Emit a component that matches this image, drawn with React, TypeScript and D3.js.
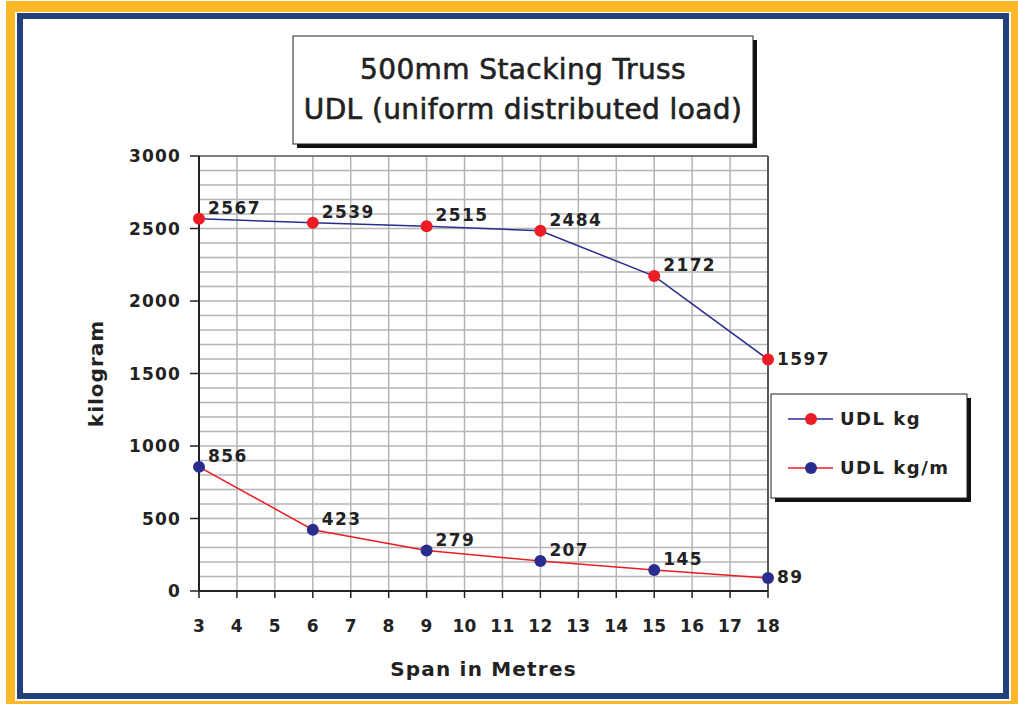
import * as d3 from "d3";
import React from "react";

const spans = [3, 6, 9, 12, 15, 18];
const udlKg = [2567, 2539, 2515, 2484, 2172, 1597];
const udlKgPerM = [856, 423, 279, 207, 145, 89];
const xTicks = d3.range(3, 19);
const yTicks = [0, 500, 1000, 1500, 2000, 2500, 3000];
const yGrid = d3.range(0, 3001, 100);

const W = 1018;
const H = 704;
const NAVY = "#2b2d8e";
const RED = "#ec1c24";
const FONT = "'DejaVu Sans', sans-serif";

const margin = { left: 199, right: 250, top: 156, bottom: 113 };

const App = () => {
	const x = d3.scaleLinear().domain([3, 18]).range([margin.left, W - margin.right]);
	const y = d3.scaleLinear().domain([0, 3000]).range([H - margin.bottom, margin.top]);

	const line = d3
		.line<number>()
		.x((_, i) => x(spans[i]))
		.y((d) => y(d));

	const series = [
		{ name: "UDL kg", values: udlKg, stroke: NAVY, dot: RED },
		{ name: "UDL kg/m", values: udlKgPerM, stroke: RED, dot: NAVY },
	];

	const [x0, x1] = x.range();
	const [yb, yt] = y.range();

	return (
		<svg
			width={W}
			height={H}
			style={{ position: "absolute", left: 0, top: 0, background: "#fff" }}
			fontFamily={FONT}
		>
			{/* frame */}
			<rect x={6} y={1} width={W - 6} height={H - 1} fill="#fdb827" />
			<rect x={15} y={12} width={996} height={689} fill="#fff" />
			<rect x={20} y={16} width={986} height={680} fill="#fff" stroke="#22407c" strokeWidth={6} />

			{/* title */}
			<rect x={297} y={40} width={460} height={108} fill="#111" />
			<rect x={293} y={36} width={460} height={108} fill="#fff" stroke="#222" strokeWidth={1} />
			<g fontSize={28} fill="#222" stroke="#222" strokeWidth={0.6} textAnchor="middle" letterSpacing={0.4}>
				<text x={523} y={79}>
					500mm Stacking Truss
				</text>
				<text x={523} y={119}>
					UDL (uniform distributed load)
				</text>
			</g>

			{/* grid */}
			<g stroke="#b5b5b5" strokeWidth={1.5}>
				{yGrid.map((v) => (
					<line key={"h" + v} x1={x0} x2={x1} y1={y(v)} y2={y(v)} />
				))}
				{xTicks.map((v) => (
					<line key={"v" + v} x1={x(v)} x2={x(v)} y1={yb} y2={yt} />
				))}
			</g>
			<line x1={x1} x2={x1} y1={yt} y2={yb} stroke="#333" strokeWidth={1.5} />
			<line x1={x0} x2={x1} y1={yt} y2={yt} stroke="#666" strokeWidth={1.5} />

			{/* axes */}
			<line x1={x0} x2={x0} y1={yt} y2={yb} stroke="#222" strokeWidth={2} />
			<line x1={x0} x2={x1} y1={yb} y2={yb} stroke="#222" strokeWidth={2} />
			{yTicks.map((v) => (
				<g key={"yt" + v}>
					<line x1={x0 - 9} x2={x0} y1={y(v)} y2={y(v)} stroke="#222" strokeWidth={1.5} />
					<text
						x={x0 - 18}
						y={y(v)}
						dy="0.36em"
						textAnchor="end"
						fontSize={17}
						fontWeight="bold"
						letterSpacing={1.2}
						fill="#222"
					>
						{v}
					</text>
				</g>
			))}
			{xTicks.map((v) => (
				<g key={"xt" + v}>
					<line x1={x(v)} x2={x(v)} y1={yb} y2={yb + 7} stroke="#222" strokeWidth={1.5} />
					<text
						x={x(v)}
						y={yb + 41}
						textAnchor="middle"
						fontSize={17}
						fontWeight="bold"
						letterSpacing={0.3}
						fill="#222"
					>
						{v}
					</text>
				</g>
			))}
			<text
				transform={`translate(103,${(yt + yb) / 2}) rotate(-90)`}
				textAnchor="middle"
				fontSize={20}
				fontWeight="bold"
				letterSpacing={1}
				fill="#222"
			>
				kilogram
			</text>
			<text
				x={(x0 + x1) / 2}
				y={676}
				textAnchor="middle"
				fontSize={20}
				fontWeight="bold"
				letterSpacing={1.2}
				fill="#222"
			>
				Span in Metres
			</text>

			{/* series */}
			{series.map((s) => (
				<g key={s.name}>
					<path d={line(s.values) ?? ""} fill="none" stroke={s.stroke} strokeWidth={1.5} />
					{s.values.map((v, i) => (
						<circle key={i} cx={x(spans[i])} cy={y(v)} r={6} fill={s.dot} />
					))}
					{s.values.map((v, i) => {
						const last = i === s.values.length - 1;
						return (
							<text
								key={"l" + i}
								x={x(spans[i]) + (last ? 9 : 9)}
								y={y(v) + (last ? -1 : -11)}
								dy="0.36em"
								fontSize={17}
								fontWeight="bold"
								letterSpacing={1.4}
								fill="#222"
							>
								{v}
							</text>
						);
					})}
				</g>
			))}

			{/* legend */}
			<rect x={775} y={398} width={196} height={104} fill="#111" />
			<rect x={771} y={394} width={196} height={104} fill="#fff" stroke="#222" strokeWidth={1} />
			{series.map((s, i) => {
				const ly = 419 + i * 49;
				return (
					<g key={"lg" + s.name}>
						<line x1={788} x2={833} y1={ly} y2={ly} stroke={s.stroke} strokeWidth={1.5} />
						<circle cx={811} cy={ly} r={6} fill={s.dot} />
						<text x={840} y={ly} dy="0.36em" fontSize={18} fontWeight="bold" letterSpacing={1.5} fill="#222">
							{s.name}
						</text>
					</g>
				);
			})}
		</svg>
	);
};

export default App;
